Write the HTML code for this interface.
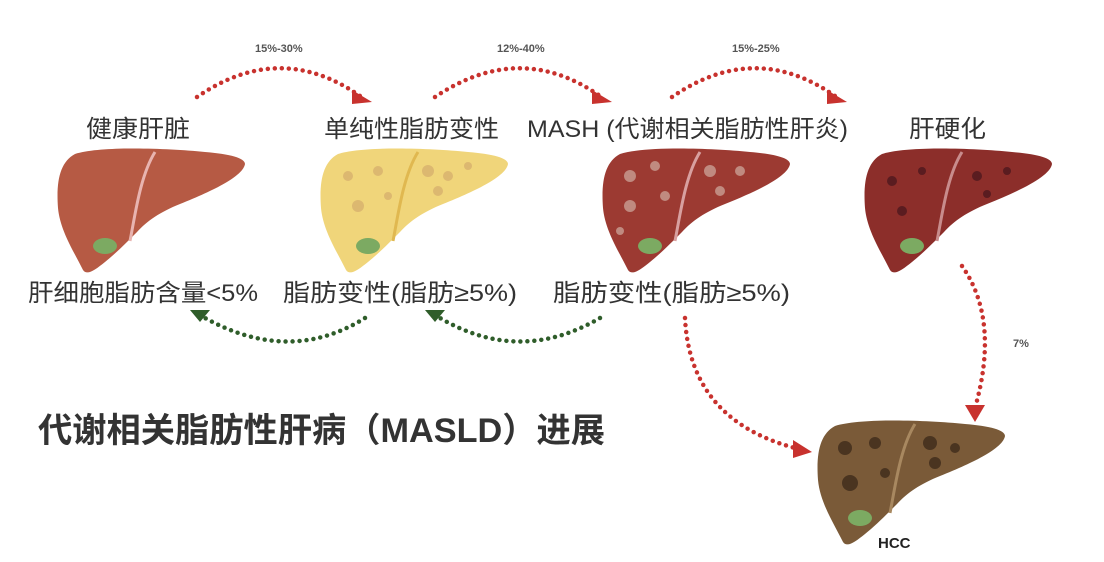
<!DOCTYPE html><html><head><meta charset="utf-8"><style>
body{margin:0;background:#fff;width:1104px;height:562px;overflow:hidden}
svg{display:block}
.t{font-family:"Liberation Sans","Noto Sans CJK SC",sans-serif;fill:#333}
.p{font-family:"Liberation Sans",sans-serif;font-weight:bold;font-size:11px;fill:#555}
.r{fill:none;stroke:#c8322e;stroke-width:4.5;stroke-linecap:round;stroke-dasharray:0 7}
.g{fill:none;stroke:#2f5d2a;stroke-width:4.5;stroke-linecap:round;stroke-dasharray:0 7}
</style></head><body>
<svg width="1104" height="562" viewBox="0 0 1104 562">
<defs>
<path id="L" d="M20,8 C45,0 110,2 150,6 C175,8 190,12 190,18 C188,30 160,44 125,58 C105,66 92,75 82,86 C70,98 60,108 50,116 C40,124 32,130 28,124 C18,104 5,84 3,62 C1,35 5,16 20,8 Z"/>
</defs>
<path class="r" d="M197,97 Q280,40 360,96"/><polygon points="352,90 372,102 352,104" fill="#c8322e"/>
<path class="r" d="M435,97 Q520,40 600,96"/><polygon points="592,90 612,102 592,104" fill="#c8322e"/>
<path class="r" d="M672,97 Q755,40 835,96"/><polygon points="827,90 847,102 827,104" fill="#c8322e"/>
<text class="p" x="255" y="52">15%-30%</text>
<text class="p" x="497" y="52">12%-40%</text>
<text class="p" x="732" y="52">15%-25%</text>
<g class="t" font-size="24">
<text x="86" y="137" textLength="104" lengthAdjust="spacingAndGlyphs">健康肝脏</text>
<text x="324" y="137" textLength="175" lengthAdjust="spacingAndGlyphs">单纯性脂肪变性</text>
<text x="527" y="137" textLength="321" lengthAdjust="spacingAndGlyphs">MASH (代谢相关脂肪性肝炎)</text>
<text x="909" y="137" textLength="77" lengthAdjust="spacingAndGlyphs">肝硬化</text>
<text x="28" y="301" textLength="230" lengthAdjust="spacingAndGlyphs">肝细胞脂肪含量&lt;5%</text>
<text x="283" y="301" textLength="234" lengthAdjust="spacingAndGlyphs">脂肪变性(脂肪≥5%)</text>
<text x="553" y="301" textLength="237" lengthAdjust="spacingAndGlyphs">脂肪变性(脂肪≥5%)</text>
</g>
<text class="t" x="38" y="442" font-size="34" font-weight="bold" fill="#3a3a3a" textLength="567" lengthAdjust="spacingAndGlyphs">代谢相关脂肪性肝病（MASLD）进展</text>
<g transform="translate(55,146)"><use href="#L" fill="#b65a44"/><path d="M100,6 C85,30 80,70 75,95" stroke="#e8b4b0" stroke-width="3" fill="none"/><ellipse cx="50" cy="100" rx="12" ry="8" fill="#7caa62"/></g>
<g transform="translate(318,146)"><use href="#L" fill="#f0d57a"/><path d="M100,6 C85,30 80,70 75,95" stroke="#e0b850" stroke-width="3" fill="none"/><ellipse cx="50" cy="100" rx="12" ry="8" fill="#7caa62"/>
<g fill="#dcb870"><circle cx="30" cy="30" r="5"/><circle cx="60" cy="25" r="5"/><circle cx="110" cy="25" r="6"/><circle cx="130" cy="30" r="5"/><circle cx="40" cy="60" r="6"/><circle cx="70" cy="50" r="4"/><circle cx="120" cy="45" r="5"/><circle cx="150" cy="20" r="4"/></g></g>
<g transform="translate(600,146)"><use href="#L" fill="#9c3a32"/><path d="M100,6 C85,30 80,70 75,95" stroke="#d8a0a0" stroke-width="3" fill="none"/><ellipse cx="50" cy="100" rx="12" ry="8" fill="#7caa62"/>
<g fill="#c08a80"><circle cx="30" cy="30" r="6"/><circle cx="55" cy="20" r="5"/><circle cx="110" cy="25" r="6"/><circle cx="140" cy="25" r="5"/><circle cx="30" cy="60" r="6"/><circle cx="65" cy="50" r="5"/><circle cx="120" cy="45" r="5"/><circle cx="20" cy="85" r="4"/></g></g>
<g transform="translate(862,146)"><use href="#L" fill="#8c2e2a"/><path d="M100,6 C85,30 80,70 75,95" stroke="#c88c8c" stroke-width="3" fill="none"/><ellipse cx="50" cy="100" rx="12" ry="8" fill="#7caa62"/>
<g fill="#5a1c20"><circle cx="30" cy="35" r="5"/><circle cx="60" cy="25" r="4"/><circle cx="115" cy="30" r="5"/><circle cx="145" cy="25" r="4"/><circle cx="40" cy="65" r="5"/><circle cx="125" cy="48" r="4"/></g></g>
<g transform="translate(815,418)"><use href="#L" fill="#7a5a38"/><path d="M100,6 C85,30 80,70 75,95" stroke="#a88860" stroke-width="3" fill="none"/><ellipse cx="45" cy="100" rx="12" ry="8" fill="#7caa62"/>
<g fill="#4a3420"><circle cx="30" cy="30" r="7"/><circle cx="60" cy="25" r="6"/><circle cx="115" cy="25" r="7"/><circle cx="140" cy="30" r="5"/><circle cx="35" cy="65" r="8"/><circle cx="120" cy="45" r="6"/><circle cx="70" cy="55" r="5"/></g></g>
<text x="878" y="548" font-family="Liberation Sans,sans-serif" font-weight="bold" font-size="15" fill="#222">HCC</text>
<path class="g" d="M365,318 Q290,365 205,318"/><polygon points="190,310 210,310 200,322" fill="#2f5d2a"/>
<path class="g" d="M600,318 Q520,365 440,318"/><polygon points="425,310 445,310 435,322" fill="#2f5d2a"/>
<path class="r" d="M685,318 Q690,420 795,448"/><polygon points="793,440 812,452 793,458" fill="#c8322e"/>
<path class="r" d="M962,266 Q1000,320 975,408"/><polygon points="965,405 985,405 975,422" fill="#c8322e"/>
<text class="p" x="1013" y="347">7%</text>
</svg></body></html>
